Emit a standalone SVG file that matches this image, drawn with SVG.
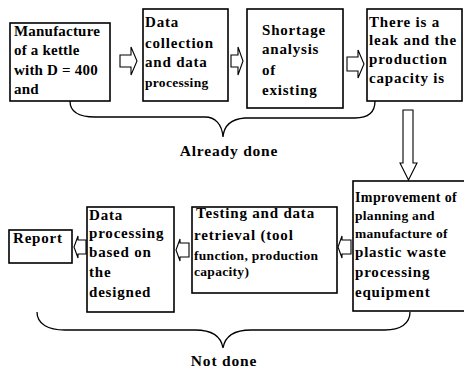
<svg xmlns="http://www.w3.org/2000/svg" width="464" height="369" viewBox="0 0 464 369">
<style>
.box{fill:#fff;stroke:#000;stroke-width:1.6}
.arr{fill:#fff;stroke:#000;stroke-width:1.1;stroke-linejoin:miter}
.brace{fill:none;stroke:#000;stroke-width:1.3}
text{font-family:'Liberation Serif','DejaVu Serif',serif;font-weight:700;fill:#000}
.t{font-size:15px;letter-spacing:0.8px}
.t1{font-size:15px;letter-spacing:0.2px}
.s{font-size:13.5px;letter-spacing:0.3px}
.m{font-size:14px;letter-spacing:0.4px}
.lbl{font-size:15.5px;letter-spacing:0.8px}
</style>
<rect width="464" height="369" fill="#fff"/>
<g id="connectors">
<path class="arr" d="M120,55 H131 V47 L137,61 L131,75 V67 H120 Z"/>
<path class="arr" d="M231,55 H238 V47 L243,61 L238,75 V67 H231 Z"/>
<path class="arr" d="M347,57 H358 V50 L364,64 L358,78 V71 H347 Z"/>
<path class="arr" d="M403,110 H413 V163 H417 L408.5,180 L400,163 H403 Z"/>
<path class="arr" d="M351,240 H342 V236 L338,247 L342,258 V254 H351 Z"/>
<path class="arr" d="M189,243 H180 V239 L176,250 L180,261 V257 H189 Z"/>
<path class="arr" d="M86,240 H78 V236 L74,247 L78,258 V254 H86 Z"/>
<path class="brace" d="M70,101 C70,112 78,117 95,117 H205 C215,117 222,124 223,137 C224,125 231,119 245,118 H355 C368,118 375,112 375,101"/>
<path class="brace" d="M37,312 C37,324 48,330 65,330 H195 C212,330 221,336 223,348 C225,336 234,330 251,330 H385 C400,330 410,324 410,312"/>
</g>
<g id="n1">
<rect class="box" x="10" y="23" width="100" height="78"/>
<text class="t1" x="14" y="36">Manufacture</text>
<text class="t1" x="14" y="55">of a kettle</text>
<text class="t1" x="14" y="75">with D = 400</text>
<text class="t1" x="14" y="94">and</text>
</g>
<g id="n2">
<rect class="box" x="143" y="9" width="85" height="92"/>
<text class="t" x="145" y="27">Data</text>
<text class="t" x="145" y="48">collection</text>
<text class="t" x="145" y="67">and data</text>
<text class="s" x="145" y="87">processing</text>
</g>
<g id="n3">
<rect class="box" x="247" y="9" width="96" height="99"/>
<text class="t" x="262" y="35">Shortage</text>
<text class="t" x="262" y="54">analysis</text>
<text class="t" x="262" y="75">of</text>
<text class="t" x="262" y="95">existing</text>
</g>
<g id="n4">
<rect class="box" x="367" y="9" width="95" height="92"/>
<text class="t" x="369" y="27">There is a</text>
<text class="t" x="369" y="45">leak and the</text>
<text class="t" x="369" y="64">production</text>
<text class="t" x="369" y="83">capacity is</text>
</g>
<g id="n5">
<rect class="box" x="353" y="181" width="112" height="130"/>
<text class="m" x="355" y="202">Improvement of</text>
<text class="s" x="355" y="220">planning and</text>
<text class="s" x="355" y="238">manufacture of</text>
<text class="t" x="355" y="257">plastic waste</text>
<text class="t" x="355" y="277">processing</text>
<text class="t" x="355" y="297">equipment</text>
</g>
<g id="n6">
<rect class="box" x="192" y="207" width="145" height="86"/>
<text class="t" x="196" y="218">Testing and data</text>
<text class="t" x="194" y="240">retrieval (tool</text>
<text class="s" x="194" y="260">function, production</text>
<text class="s" x="194" y="276">capacity)</text>
</g>
<g id="n7">
<rect class="box" x="87" y="207" width="87" height="105"/>
<text class="t" x="89" y="220">Data</text>
<text class="t" x="89" y="238">processing</text>
<text class="t" x="89" y="257">based on</text>
<text class="t" x="89" y="277">the</text>
<text class="t" x="89" y="297">designed</text>
</g>
<g id="n8">
<rect class="box" x="9" y="230" width="63" height="33"/>
<text class="t" x="13" y="243">Report</text>
</g>
<g id="labels">
<text class="lbl" x="229" y="156" text-anchor="middle">Already done</text>
<text class="lbl" x="224" y="366" text-anchor="middle">Not done</text>
</g>
</svg>
